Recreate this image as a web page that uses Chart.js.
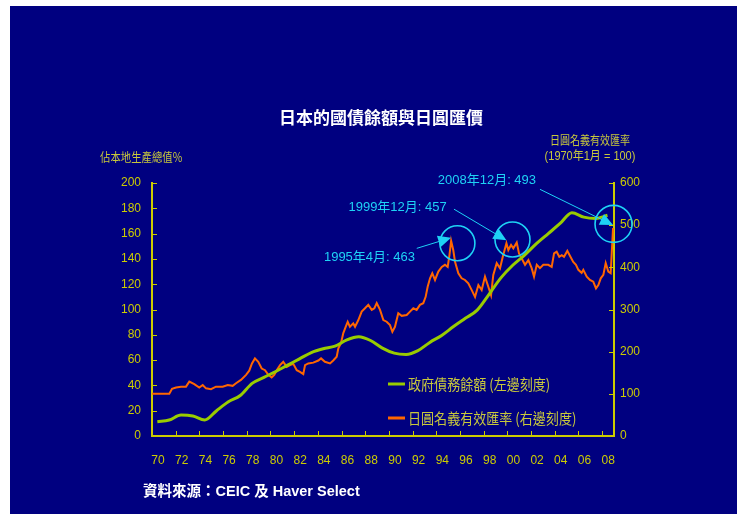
<!DOCTYPE html>
<html lang="zh-Hant">
<head>
<meta charset="UTF-8">
<title>日本的國債餘額與日圓匯價</title>
<script src="https://cdn.jsdelivr.net/npm/chart.js"></script>
<style>
  body { margin: 0; background: #fff; }
  #wrap { position: absolute; left: 10px; top: 6px; width: 727px; height: 508px; background: #000080; }
</style>
</head>
<body>
<div id="wrap"><canvas id="myChart" width="727" height="508"></canvas></div>
<script>
// government debt, % of GDP (annual, left scale)
const debtYears = [1970,1971,1972,1973,1974,1975,1976,1977,1978,1979,1980,1981,1982,1983,1984,1985,1986,1987,1988,1989,
                   1990,1991,1992,1993,1994,1995,1996,1997,1998,1999,2000,2001,2002,2003,2004,2005,2006,2007,2008];
const debtRatio = [11.3,12.6,16.6,15.8,12.6,20,27,32,41.6,46.4,51,56,61,66,69,71,76,78.5,75.5,69.5,
                   65.5,64.5,67.5,74,79.5,86.5,93,99.5,112,125,135,143,152,160,168,176.5,173,172,174.5];

// nominal effective yen rate, 1970 Jan = 100 (right scale)
const yenDates = [1970,1971.46,1971.69,1972.03,1972.45,1972.87,1973.15,1973.57,1973.99,1974.28,1974.56,1974.98,
  1975.40,1975.97,1976.39,1976.81,1977.09,1977.51,1977.94,1978.21,1978.44,1978.69,1978.97,1979.26,1979.54,1979.82,
  1980.10,1980.32,1980.53,1980.81,1981.08,1981.37,1981.65,1981.93,1982.22,1982.49,1982.77,1982.92,1983.19,1983.62,
  1984.04,1984.27,1984.60,1985.03,1985.30,1985.59,1985.73,1985.95,1986.15,1986.35,1986.52,1986.71,1986.99,1987.14,
  1987.42,1987.70,1987.98,1988.26,1988.55,1988.77,1988.97,1989.25,1989.53,1989.81,1990.09,1990.29,1990.51,1990.79,
  1991.08,1991.50,1991.78,1992.06,1992.34,1992.62,1992.90,1993.10,1993.27,1993.47,1993.66,1993.89,1994.17,1994.46,
  1994.73,1994.96,1995.11,1995.25,1995.43,1995.58,1995.86,1996.14,1996.42,1996.70,1996.99,1997.27,1997.55,1997.83,
  1998.11,1998.39,1998.62,1998.81,1999.10,1999.38,1999.61,1999.92,2000.08,2000.31,2000.50,2000.79,2000.98,2001.21,
  2001.49,2001.77,2002.05,2002.25,2002.48,2002.75,2003.03,2003.45,2003.74,2003.94,2004.16,2004.38,2004.59,2004.78,
  2005.06,2005.29,2005.56,2005.79,2005.99,2006.27,2006.41,2006.70,2006.97,2007.25,2007.48,2007.68,2007.88,2008.10,
  2008.30,2008.52,2008.72,2008.92];
const yenIndex = [100,100,112,115,117,117,129,123,115,121,113,111,
  117,117,121,119,125,133,145,155,172,184,176,160,156,145,
  139,145,156,168,176,164,168,171,156,152,147,168,172,174,
  179,184,176,172,179,188,208,220,244,259,271,259,267,259,
  275,295,303,311,299,303,315,299,275,271,263,247,259,291,
  285,287,295,303,299,311,315,330,354,374,386,370,390,401,
  406,401,429,463,441,413,386,374,370,362,346,330,358,346,
  378,354,334,382,410,398,425,457,441,453,445,459,433,421,
  406,417,398,378,406,398,406,406,401,433,437,425,429,425,
  439,427,413,406,394,387,394,378,370,366,350,358,374,382,
  410,390,386,493];

const xTickStep = 2;
const leftTickStep = 20;
const rightTickStep = 100;

// call-outs on the yen series
const noteDates  = [1995.25, 1999.92, 2008.92];
const noteValues = [463, 457, 493];
const noteLabels = ['1995年4月: 463', '1999年12月: 457', '2008年12月: 493'];
const noteTextX  = [1992.2, 1994.88, 2002.42];   // right end of label, in years
const noteTextY  = [424, 541, 605];              // right-scale units
const noteFromX  = [1992.35, 1995.49, 2002.75];
const noteFromY  = [445, 538, 585];
const ringX      = [1995.78, 2000.43, 2008.96];
const ringY      = [457, 466, 503];

const seriesNames = ['政府債務餘額 (左邊刻度)', '日圓名義有效匯率 (右邊刻度)'];

const AXIS = '#CCCC00';
const TEXT = '#C8C83C';
const CYAN = '#1ED2F5';
const NUMFONT = '"Liberation Sans Narrow", "Liberation Sans", Arial, sans-serif';
const CJK = '"Liberation Sans", "Noto Sans CJK TC", sans-serif';

function squeeze(ctx, text, x, y, sx, align) {
  ctx.save();
  ctx.translate(x, y);
  ctx.scale(sx, 1);
  ctx.textAlign = align;
  ctx.fillText(text, 0, 0);
  ctx.restore();
}

const decor = {
  id: 'decor',
  afterDraw(chart) {
    const { ctx, chartArea: a } = chart;
    const x = chart.scales.x, yL = chart.scales.yL, yR = chart.scales.yR;
    ctx.save();

    // inward tick marks
    ctx.strokeStyle = AXIS;
    ctx.lineWidth = 1;
    ctx.beginPath();
    x.ticks.forEach(t => {
      const px = Math.round(x.getPixelForValue(t.value)) + 0.5;
      ctx.moveTo(px, a.bottom); ctx.lineTo(px, a.bottom - 5);
    });
    yL.ticks.forEach(t => {
      const py = Math.round(yL.getPixelForValue(t.value)) + 0.5;
      ctx.moveTo(a.left, py); ctx.lineTo(a.left + 5, py);
    });
    yR.ticks.forEach(t => {
      const py = Math.round(yR.getPixelForValue(t.value)) + 0.5;
      ctx.moveTo(a.right, py); ctx.lineTo(a.right - 5, py);
    });
    ctx.stroke();

    // titles
    ctx.textBaseline = 'middle';
    ctx.fillStyle = '#ffffff';
    ctx.font = 'bold 17px "Noto Sans CJK TC", sans-serif';
    ctx.textAlign = 'center';
    ctx.fillText('日本的國債餘額與日圓匯價', 371, 112);

    ctx.fillStyle = TEXT;
    ctx.font = '12.5px "Noto Sans CJK TC", sans-serif';
    squeeze(ctx, '佔本地生產總值%', 90, 151, 0.83, 'left');
    squeeze(ctx, '日圓名義有效匯率', 580, 134, 0.8, 'center');
    ctx.font = '12.5px ' + NUMFONT.replace('sans-serif', '"Noto Sans CJK TC", sans-serif');
    squeeze(ctx, '(1970年1月 = 100)', 580, 151, 0.88, 'center');

    // legend
    const ds = chart.data.datasets;
    [378, 412].forEach((ly, i) => {
      ctx.strokeStyle = ds[i].borderColor;
      ctx.lineWidth = 3;
      ctx.beginPath();
      ctx.moveTo(378, ly); ctx.lineTo(395, ly);
      ctx.stroke();
      ctx.fillStyle = TEXT;
      ctx.font = '15px "Noto Sans CJK TC", sans-serif';
      squeeze(ctx, ds[i].label, 398, ly, 0.87, 'left');
    });

    // call-outs
    ctx.font = '13px ' + CJK;
    noteLabels.forEach((lab, i) => {
      ctx.fillStyle = CYAN;
      ctx.textAlign = 'right';
      ctx.fillText(lab, x.getPixelForValue(noteTextX[i]), yR.getPixelForValue(noteTextY[i]));

      const x0 = x.getPixelForValue(noteFromX[i]), y0 = yR.getPixelForValue(noteFromY[i]);
      const x1 = x.getPixelForValue(noteDates[i]), y1 = yR.getPixelForValue(noteValues[i]) - 3;
      const ang = Math.atan2(y1 - y0, x1 - x0);
      const c = Math.cos(ang), s = Math.sin(ang);
      ctx.strokeStyle = CYAN;
      ctx.lineWidth = 1;
      ctx.beginPath();
      ctx.moveTo(x0, y0);
      ctx.lineTo(x1 - 10 * c, y1 - 10 * s);
      ctx.stroke();
      ctx.beginPath();
      ctx.moveTo(x1, y1);
      ctx.lineTo(x1 - 13 * c + 6 * s, y1 - 13 * s - 6 * c);
      ctx.lineTo(x1 - 13 * c - 6 * s, y1 - 13 * s + 6 * c);
      ctx.closePath();
      ctx.fill();

      ctx.lineWidth = 1.6;
      ctx.beginPath();
      ctx.arc(x.getPixelForValue(ringX[i]), yR.getPixelForValue(ringY[i]), i === 2 ? 18.5 : 17.5, 0, Math.PI * 2);
      ctx.stroke();
    });

    // source
    ctx.fillStyle = '#ffffff';
    ctx.textAlign = 'left';
    ctx.font = 'bold 14.5px "Liberation Sans", "Noto Sans CJK TC", sans-serif';
    ctx.fillText('資料來源：CEIC 及 Haver Select', 133, 486);

    ctx.restore();
  }
};

const ctx = document.getElementById('myChart').getContext('2d');
new Chart(ctx, {
  type: 'line',
  data: {
    datasets: [
      {
        label: seriesNames[0],
        data: debtYears.map((y, i) => ({ x: y + 0.45, y: debtRatio[i] })),
        yAxisID: 'yL',
        borderColor: '#99CC00',
        borderWidth: 3,
        pointRadius: 0,
        tension: 0.4,
        cubicInterpolationMode: 'monotone'
      },
      {
        label: seriesNames[1],
        data: yenDates.map((d, i) => ({ x: d, y: yenIndex[i] })),
        yAxisID: 'yR',
        borderColor: '#FF6600',
        borderWidth: 2,
        pointRadius: 0,
        tension: 0
      }
    ]
  },
  options: {
    responsive: false,
    animation: false,
    devicePixelRatio: 1,
    layout: { padding: { left: 0, right: 0, top: 177, bottom: 0 } },
    plugins: { legend: { display: false }, title: { display: false }, tooltip: { enabled: false } },
    scales: {
      x: {
        type: 'linear',
        min: 1970,
        max: 2009,
        grid: { display: false, drawTicks: false },
        border: { display: true, color: AXIS, width: 2 },
        ticks: {
          stepSize: xTickStep,
          includeBounds: false,
          autoSkip: false,
          maxRotation: 0,
          padding: 17,
          labelOffset: 6,
          color: AXIS,
          font: { family: NUMFONT, size: 12 },
          callback: v => String(v % 100).padStart(2, '0')
        },
        afterFit: s => { s.height = 78; }
      },
      yL: {
        position: 'left',
        min: 0,
        max: 200,
        grid: { display: false, drawTicks: false },
        border: { display: true, color: AXIS, width: 2 },
        ticks: { stepSize: leftTickStep, padding: 11, color: AXIS, font: { family: NUMFONT, size: 12 } },
        afterFit: s => { s.width = 142; }
      },
      yR: {
        position: 'right',
        min: 0,
        max: 600,
        grid: { display: false, drawTicks: false },
        border: { display: true, color: AXIS, width: 2 },
        ticks: { stepSize: rightTickStep, padding: 6, color: AXIS, font: { family: NUMFONT, size: 12 } },
        afterFit: s => { s.width = 123; }
      }
    }
  },
  plugins: [decor]
});
</script>
</body>
</html>
